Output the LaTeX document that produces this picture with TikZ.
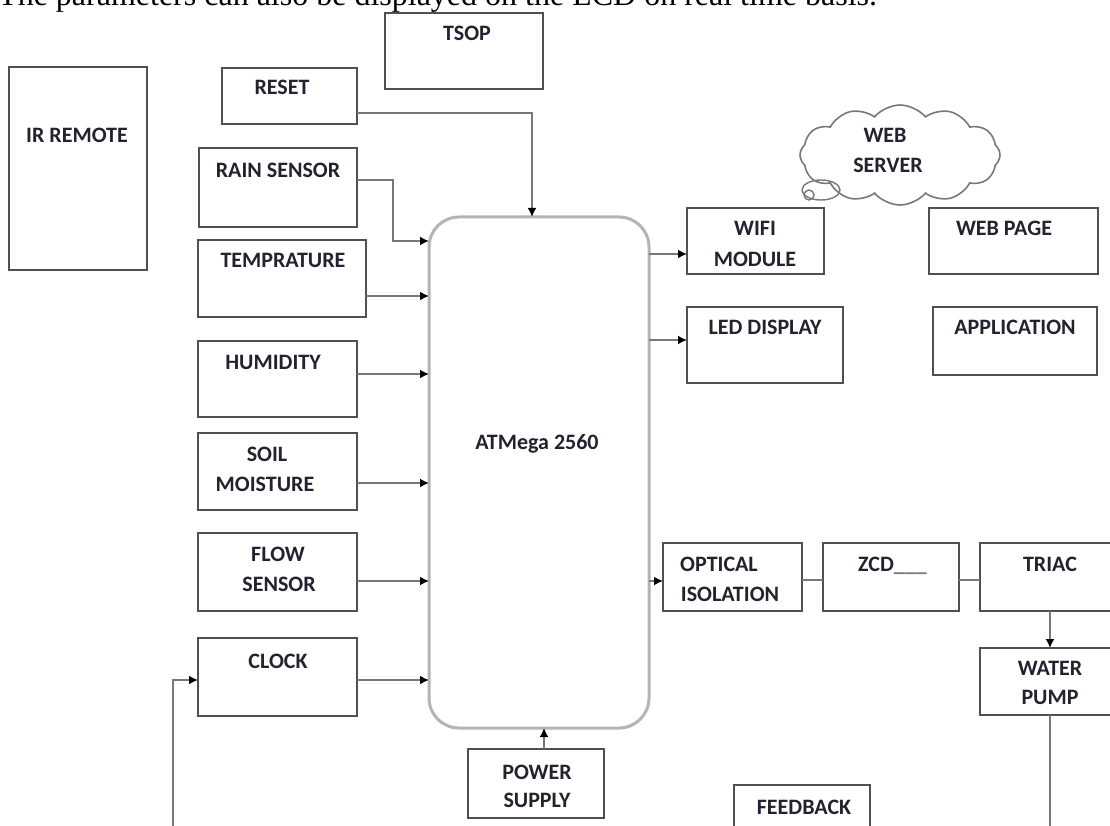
\documentclass[tikz,border=0pt]{standalone}
\usepackage{fontspec}
\setmainfont{Carlito}
\newfontfamily\hdrfont{Liberation Serif}
\usetikzlibrary{arrows.meta,shapes.symbols}
\definecolor{edge}{HTML}{505050}
\definecolor{wirec}{HTML}{787878}
\definecolor{ink}{HTML}{232330}
\definecolor{rim}{HTML}{B4B4B4}
\begin{document}
\begin{tikzpicture}[x=1pt,y=-1pt,
  box/.style={draw=edge,line width=2.6pt,inner sep=0pt,outer sep=0pt},
  lab/.style={font=\bfseries\fontsize{22}{26}\selectfont,text=ink,inner sep=0pt,anchor=base},
  wire/.style={draw=wirec,line width=2.2pt},
  arr/.style={wire,-{Latex[length=9pt,width=9pt,color=black]}}]
\useasboundingbox (0,0) rectangle (1110,826);
\clip (0,0) rectangle (1110,826);
\fill[white] (0,0) rectangle (1110,826);

% header text (cut at top, as in the reference)
\node[anchor=base west,inner sep=0pt,font=\hdrfont\fontsize{32}{36}\selectfont] (hdr) at (-2,6)
  {The parameters can also be displayed on the LCD on real time basis.};

% boxes
\node[box,minimum width=138pt,minimum height=203pt] (irr) at (78,168.5) {};
\node[box,minimum width=158pt,minimum height=76pt] (tsop) at (464,51) {};
\node[box,minimum width=135pt,minimum height=56pt] (reset) at (289.5,96) {};
\node[box,minimum width=158pt,minimum height=79pt] (rain) at (278,187.5) {};
\node[box,minimum width=168pt,minimum height=77pt] (temp) at (282,278.5) {};
\node[box,minimum width=159pt,minimum height=76pt] (hum) at (277.5,379) {};
\node[box,minimum width=159pt,minimum height=77pt] (soil) at (277.5,471.5) {};
\node[box,minimum width=159pt,minimum height=78pt] (flow) at (277.5,572) {};
\node[box,minimum width=159pt,minimum height=78pt] (clock) at (277.5,677) {};
\node[box,minimum width=136pt,minimum height=69pt] (power) at (536,783.5) {};
\node[draw=rim,line width=3pt,rounded corners=30pt,inner sep=0pt,outer sep=0pt,
      minimum width=220pt,minimum height=511pt] (atm) at (539,472.5) {};
\node[box,minimum width=137pt,minimum height=66pt] (wifi) at (755.5,241) {};
\node[box,minimum width=156pt,minimum height=76pt] (led) at (765,345) {};
\node[box,minimum width=169pt,minimum height=66pt] (webpage) at (1013.5,241) {};
\node[box,minimum width=164pt,minimum height=68pt] (app) at (1015,341) {};
\node[box,minimum width=139pt,minimum height=68pt] (opt) at (732.5,577) {};
\node[box,minimum width=136pt,minimum height=68pt] (zcd) at (891,577) {};
\node[box,minimum width=140pt,minimum height=68pt] (triac) at (1050,577) {};
\node[box,minimum width=140pt,minimum height=67pt] (pump) at (1050,681.5) {};
\node[box,minimum width=136pt,minimum height=70pt] (fb) at (802,820) {};

% cloud
\node[cloud,draw=wirec,line width=1.6pt,cloud puffs=12,cloud puff arc=100,aspect=1.9,
      minimum width=200pt,minimum height=100pt,inner sep=0pt] (cloud) at (900,155) {};
\draw[wirec,line width=1.4pt] (821,190) ellipse [x radius=19,y radius=10];
\draw[wirec,line width=1.4pt] (809,195) circle [radius=5];

% labels
\node[lab] (tIR) at (77,143) {IR REMOTE};
\node[lab] (tTSOP) at (467,41) {TSOP};
\node[lab] (tRESET) at (282,95) {RESET};
\node[lab] (tRAIN) at (278,178) {RAIN SENSOR};
\node[lab] (tTEMP) at (283,268) {TEMPRATURE};
\node[lab] (tHUM) at (273,369) {HUMIDITY};
\node[lab] (tSOIL1) at (267,461) {SOIL};
\node[lab] (tSOIL2) at (265,491) {MOISTURE};
\node[lab] (tFLOW1) at (278,561) {FLOW};
\node[lab] (tFLOW2) at (279,591) {SENSOR};
\node[lab] (tCLOCK) at (278,668) {CLOCK};
\node[lab] (tPOW1) at (537,779) {POWER};
\node[lab] (tPOW2) at (537,807) {SUPPLY};
\node[lab] (tATM) at (537,449.5) {ATMega 2560};
\node[lab] (tWEB1) at (885,143) {WEB};
\node[lab] (tWEB2) at (888,173) {SERVER};
\node[lab] (tWIFI1) at (755,236) {WIFI};
\node[lab] (tWIFI2) at (755,266) {MODULE};
\node[lab] (tLED) at (765,334) {LED DISPLAY};
\node[lab] (tWP) at (1004,236) {WEB PAGE};
\node[lab] (tAPP) at (1015,334) {APPLICATION};
\node[lab] (tOPT1) at (719,571) {OPTICAL};
\node[lab] (tOPT2) at (730,601) {ISOLATION};
\node[lab,anchor=base west] (tZCD) at (858,571) {ZCD\textcolor{wirec}{\_\_\_}};
\node[lab] (tTRIAC) at (1050,571) {TRIAC};
\node[lab] (tPUMP1) at (1050,675) {WATER};
\node[lab] (tPUMP2) at (1050,704) {PUMP};
\node[lab] (tFB) at (804,814) {FEEDBACK};

% inputs to the controller
\draw[arr] ([yshift=-17pt]reset.east) -| ([xshift=-7pt]atm.north);
\draw[arr] ([yshift=7.5pt]rain.east) -| ([xshift=-36pt,yshift=-24pt]atm.north west)
           -- ([yshift=-24pt]atm.north west);
\coordinate (cT) at ([yshift=-17.5pt]temp.east);
\draw[arr] (cT) -- (cT -| atm.west);
\coordinate (cH) at ([yshift=5pt]hum.east);
\draw[arr] (cH) -- (cH -| atm.west);
\coordinate (cS) at ([yshift=-11.5pt]soil.east);
\draw[arr] (cS) -- (cS -| atm.west);
\coordinate (cF) at ([yshift=-9pt]flow.east);
\draw[arr] (cF) -- (cF -| atm.west);
\coordinate (cC) at ([yshift=-3pt]clock.east);
\draw[arr] (cC) -- (cC -| atm.west);
\coordinate (cP) at ([xshift=8pt]power.north);
\draw[arr] (cP) -- (cP |- atm.south);

% outputs
\coordinate (cW) at ([yshift=-13pt]wifi.west);
\draw[arr] (cW -| atm.east) -- (cW);
\coordinate (cL) at ([yshift=5pt]led.west);
\draw[arr] (cL -| atm.east) -- (cL);
\coordinate (cO) at ([yshift=-4pt]opt.west);
\draw[arr] (cO -| atm.east) -- (cO);
\draw[wire] ([yshift=-3pt]opt.east) -- ([yshift=-3pt]zcd.west);
\draw[wire] ([yshift=-3pt]zcd.east) -- ([yshift=-3pt]triac.west);
\draw[arr] (triac.south) -- (pump.north);

% feedback loop (bottom run lies just below the visible edge)
\coordinate (fbc) at (173,827.2);
\draw[arr] (pump.south) |- (fbc) |- ([yshift=-3pt]clock.west);
\end{tikzpicture}
\end{document}
